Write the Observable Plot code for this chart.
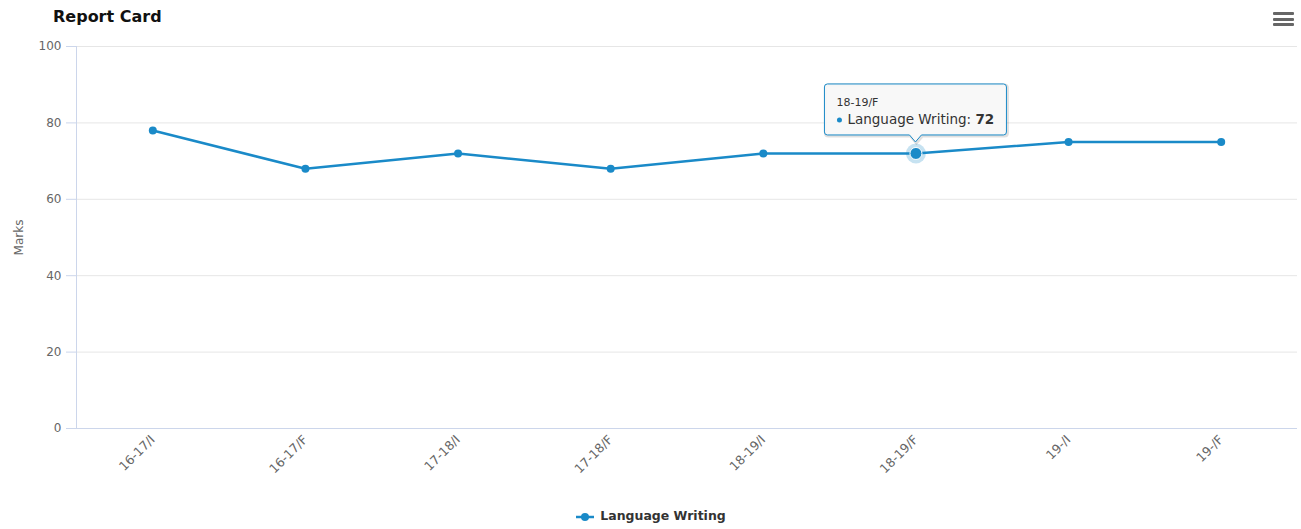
<!DOCTYPE html>
<html><head><meta charset="utf-8">
<script src="https://cdn.jsdelivr.net/npm/d3@7"></script>
<script src="https://cdn.jsdelivr.net/npm/@observablehq/plot@0.6"></script>
<style>
body{margin:0;background:#fff;font-family:"DejaVu Sans",sans-serif;}
#wrap{position:relative;width:1301px;height:529px;overflow:hidden;}
#title{position:absolute;left:53px;top:7px;font-size:16px;font-weight:bold;color:#111;}
#menu{position:absolute;left:1273px;top:12px;width:21px;}
#menu div{height:3px;background:#666;margin-bottom:2.5px;border-radius:1px;}
#legend{position:absolute;left:0;top:508px;width:1301px;text-align:center;font-size:12.5px;font-weight:bold;color:#333;}
#legend svg{vertical-align:middle;margin-right:5px;}
</style></head><body>
<div id="wrap"><div id="chart"></div><div id="title"></div><div id="menu"><div></div><div></div><div></div></div><div id="legend"></div></div>
<script>
const title = "Report Card";
const yLabel = "Marks";
const seriesName = "Language Writing";
const categories = ["16-17/I","16-17/F","17-18/I","17-18/F","18-19/I","18-19/F","19-/I","19-/F"];
const marksValues = [78, 68, 72, 68, 72, 72, 75, 75];
const yTicks = [0, 20, 40, 60, 80, 100];
const hoverIndex = 5;

const color = "#1a8ac8";
const data = categories.map((c, i) => ({period: c, value: marksValues[i]}));
const hovered = [data[hoverIndex]];

function tooltipMark(index, scales) {
  const d = hovered[0];
  const px = scales.x(d.period), py = scales.y(d.value);
  const g = d3.create("svg:g").attr("text-anchor", "start");
  const w = 182, h = 51, top = py - 69, left = px - 91;
  const path = `M${left + 3},${top} H${left + w - 3} Q${left + w},${top} ${left + w},${top + 3} V${top + h - 3} Q${left + w},${top + h} ${left + w - 3},${top + h} H${px + 6} L${px},${top + h + 7} L${px - 6},${top + h} H${left + 3} Q${left},${top + h} ${left},${top + h - 3} V${top + 3} Q${left},${top} ${left + 3},${top} Z`;
  g.append("path").attr("d", path).attr("transform", "translate(1,1)").attr("fill", "none").attr("stroke", "rgba(0,0,0,0.12)").attr("stroke-width", 3);
  g.append("path").attr("d", path).attr("fill", "rgba(247,247,247,0.92)").attr("stroke", color).attr("stroke-width", 1);
  g.append("text").attr("text-anchor", "start").attr("x", px - 79).attr("y", py - 47).attr("font-size", 11).attr("fill", "#333").text(d.period);
  g.append("circle").attr("cx", px - 76).attr("cy", py - 33).attr("r", 2.5).attr("fill", color);
  const t = g.append("text").attr("text-anchor", "start").attr("x", px - 68).attr("y", py - 28.5).attr("font-size", 13.5).attr("fill", "#333");
  t.append("tspan").text(seriesName + ": ");
  t.append("tspan").attr("font-weight", "bold").text(d.value);
  return g.node();
}

const chart = Plot.plot({
  width: 1301, height: 529,
  marginLeft: 76, marginRight: 4, marginTop: 46, marginBottom: 101,
  style: {fontFamily: "DejaVu Sans, sans-serif", fontSize: "12px", background: "white", overflow: "visible"},
  x: {type: "point", domain: categories, padding: 0.5, round: false},
  y: {domain: [0, 100]},
  marks: [
    Plot.ruleY(yTicks.filter(t => t > 0), {stroke: "#e6e6e6"}),
    Plot.ruleY([0], {stroke: "#ccd6eb"}),
    Plot.frame({anchor: "left", stroke: "#ccd6eb"}),
    Plot.axisY(yTicks, {tickSize: 10, tickPadding: 5, stroke: "#ccd6eb", fill: "#666", fontSize: 12,
      label: yLabel, labelAnchor: "center", labelArrow: "none", labelOffset: 62}),
    Plot.axisX({tickSize: 0, tickRotate: -45, tickPadding: 9, fill: "#666", fontSize: 12.5, label: null}),
    Plot.line(data, {x: "period", y: "value", stroke: color, strokeWidth: 2.5}),
    Plot.dot(data, {x: "period", y: "value", r: 4, fill: color}),
    Plot.dot(hovered, {x: "period", y: "value", r: 10, fill: color, fillOpacity: 0.25}),
    Plot.dot(hovered, {x: "period", y: "value", r: 6, fill: color, stroke: "white", strokeWidth: 1}),
    tooltipMark
  ]
});
document.getElementById("chart").append(chart);
document.getElementById("title").textContent = title;
document.getElementById("legend").innerHTML =
  `<svg width="20" height="10"><line x1="1" x2="19" y1="5" y2="5" stroke="${color}" stroke-width="2.5"/><circle cx="10" cy="5" r="4" fill="${color}"/></svg>` + seriesName;
</script>
</body></html>
